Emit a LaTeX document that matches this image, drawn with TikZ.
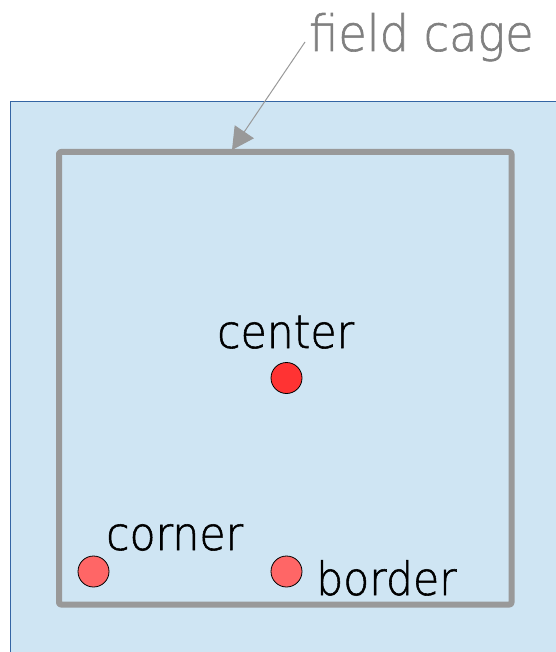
\documentclass[tikz,border=0pt]{standalone}
\usepackage{fontspec}
\setmainfont{DejaVu Sans ExtraLight}[FakeBold=1.2, FakeStretch=0.925]
\usetikzlibrary{arrows.meta}
\definecolor{panelfill}{HTML}{CFE5F3}
\definecolor{panelline}{HTML}{3465A4}
\definecolor{cagegray}{HTML}{999999}
\definecolor{labelgray}{HTML}{808080}
\definecolor{hotred}{HTML}{FF3333}
\definecolor{softred}{HTML}{FF6666}
\tikzset{
  probe/.style={circle, draw=black, line width=0.8pt, minimum size=31pt, inner sep=0pt},
  lbl/.style={font=\fontsize{46}{54}\selectfont, inner sep=0pt, anchor=base west},
}
\begin{document}
\begin{tikzpicture}[x=1pt, y=-1pt]
  \useasboundingbox (0,0) rectangle (555,652);
  % detector volume
  \filldraw[fill=panelfill, draw=panelline, line width=1pt] (10,102) rectangle (560,660);
  % field cage frame
  \draw[cagegray, line width=6pt, rounded corners=2pt, line join=round]
    (59,152) rectangle (511.5,604.5);
  \coordinate (cagetop) at (232,150);
  % labels
  \node[lbl, font=\fontsize{50}{58}\selectfont, text=labelgray] (fc) at (309,51) {field cage};
  \coordinate (fcfoot) at (305,42);
  \draw[cagegray, line width=1pt, -{Triangle[length=22pt, width=23pt]}] (fcfoot) -- (cagetop);
  % probe positions
  \node[probe, fill=hotred] (c) at (286.5,378) {};
  \node[probe, fill=softred] (k) at (93.5,571.5) {};
  \node[probe, fill=softred] (b) at (286.5,571.5) {};
  \node[lbl] (ct) at (217,348) {center};
  \node[lbl] (kt) at (106,550) {corner};
  \node[lbl] (bt) at (316,595) {border};
\end{tikzpicture}
\end{document}
